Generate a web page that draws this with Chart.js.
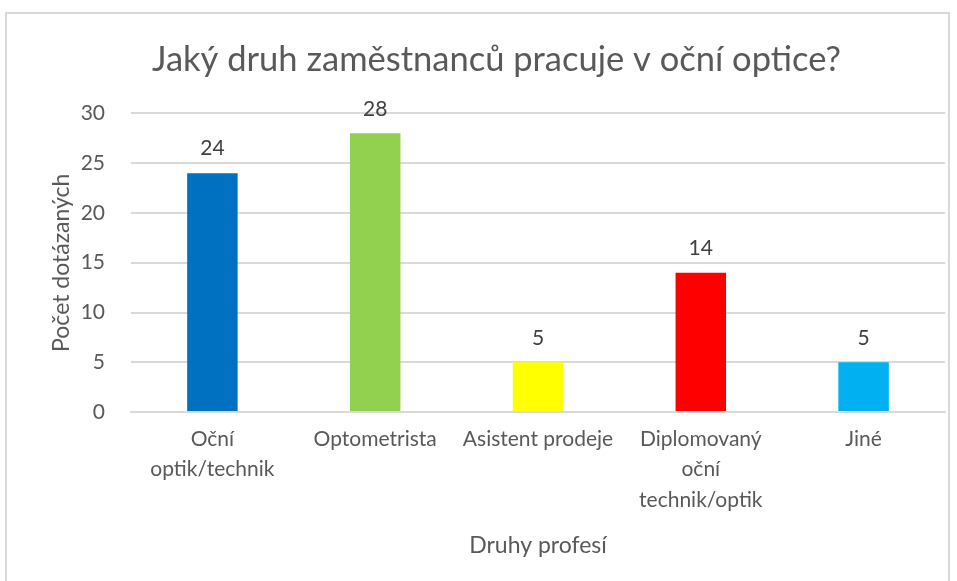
<!DOCTYPE html>
<html>
<head>
<meta charset="utf-8">
<script src="https://cdn.jsdelivr.net/npm/chart.js@4"></script>
<style>
  body { margin: 0; background: #fff; }
  #frame { position: absolute; left: 5px; top: 12px; width: 945px; height: 600px; border: 2px solid #d9d9d9; box-sizing: border-box; }
  #wrap { position: absolute; left: 0; top: 0; width: 957px; height: 581px; }
</style>
</head>
<body>
<div id="frame"></div>
<div id="wrap"><canvas id="bar-chart"></canvas></div>
<script>
const categories = [
    ['Oční', 'optik/technik'],
    'Optometrista',
    'Asistent prodeje',
    ['Diplomovaný', 'oční', 'technik/optik'],
    'Jiné'
];
const counts = [24, 28, 5, 14, 5];
const barColors = ['#0070c0', '#92d050', '#ffff00', '#ff0000', '#00b0f0'];

const fontFamily = 'Lato, "Open Sans", sans-serif';

// values on top of the bars
const valueLabels = {
    id: 'valueLabels',
    afterDatasetsDraw(chart) {
        const ctx = chart.ctx;
        const meta = chart.getDatasetMeta(0);
        ctx.save();
        ctx.font = '21px ' + fontFamily;
        ctx.fillStyle = '#404040';
        ctx.textAlign = 'center';
        ctx.textBaseline = 'bottom';
        meta.data.forEach((bar, i) => {
            ctx.fillText(chart.data.datasets[0].data[i], bar.x, bar.y - 14);
        });
        ctx.restore();
    }
};

const configBar = {
    type: 'bar',
    data: {
        labels: categories,
        datasets: [{
            data: counts,
            backgroundColor: barColors,
            categoryPercentage: 1,
            barPercentage: 0.31
        }]
    },
    options: {
        responsive: true,
        maintainAspectRatio: false,
        animation: false,
        layout: {
            padding: { left: 48, right: 12, top: 39, bottom: 18 }
        },
        plugins: {
            legend: { display: false },
            tooltip: { enabled: false },
            title: {
                display: true,
                text: 'Jaký druh zaměstnanců pracuje v oční optice?',
                color: '#595959',
                font: { family: fontFamily, size: 34.5, weight: 'normal' },
                padding: { top: 0, bottom: 33 }
            }
        },
        scales: {
            y: {
                min: 0,
                max: 30,
                afterFit(scale) { scale.width = 83; },
                ticks: {
                    stepSize: 5,
                    color: '#595959',
                    font: { family: fontFamily, size: 21 },
                    padding: 26
                },
                grid: { color: '#d9d9d9', lineWidth: 2, drawTicks: false },
                border: { display: false },
                title: {
                    display: true,
                    text: 'Počet dotázaných',
                    color: '#595959',
                    font: { family: fontFamily, size: 23 },
                    padding: { top: 0, bottom: 0 }
                }
            },
            x: {
                ticks: {
                    color: '#595959',
                    font: { family: fontFamily, size: 21, lineHeight: 1.45 },
                    maxRotation: 0,
                    autoSkip: false,
                    padding: 12
                },
                grid: { display: false, drawTicks: false },
                border: { color: '#d9d9d9', width: 2 },
                title: {
                    display: true,
                    text: 'Druhy profesí',
                    color: '#595959',
                    font: { family: fontFamily, size: 23 },
                    padding: { top: 4 }
                }
            }
        }
    },
    plugins: [valueLabels]
};

const context = document.getElementById('bar-chart').getContext('2d');
const chartBar = new Chart(context, configBar);
</script>
</body>
</html>
